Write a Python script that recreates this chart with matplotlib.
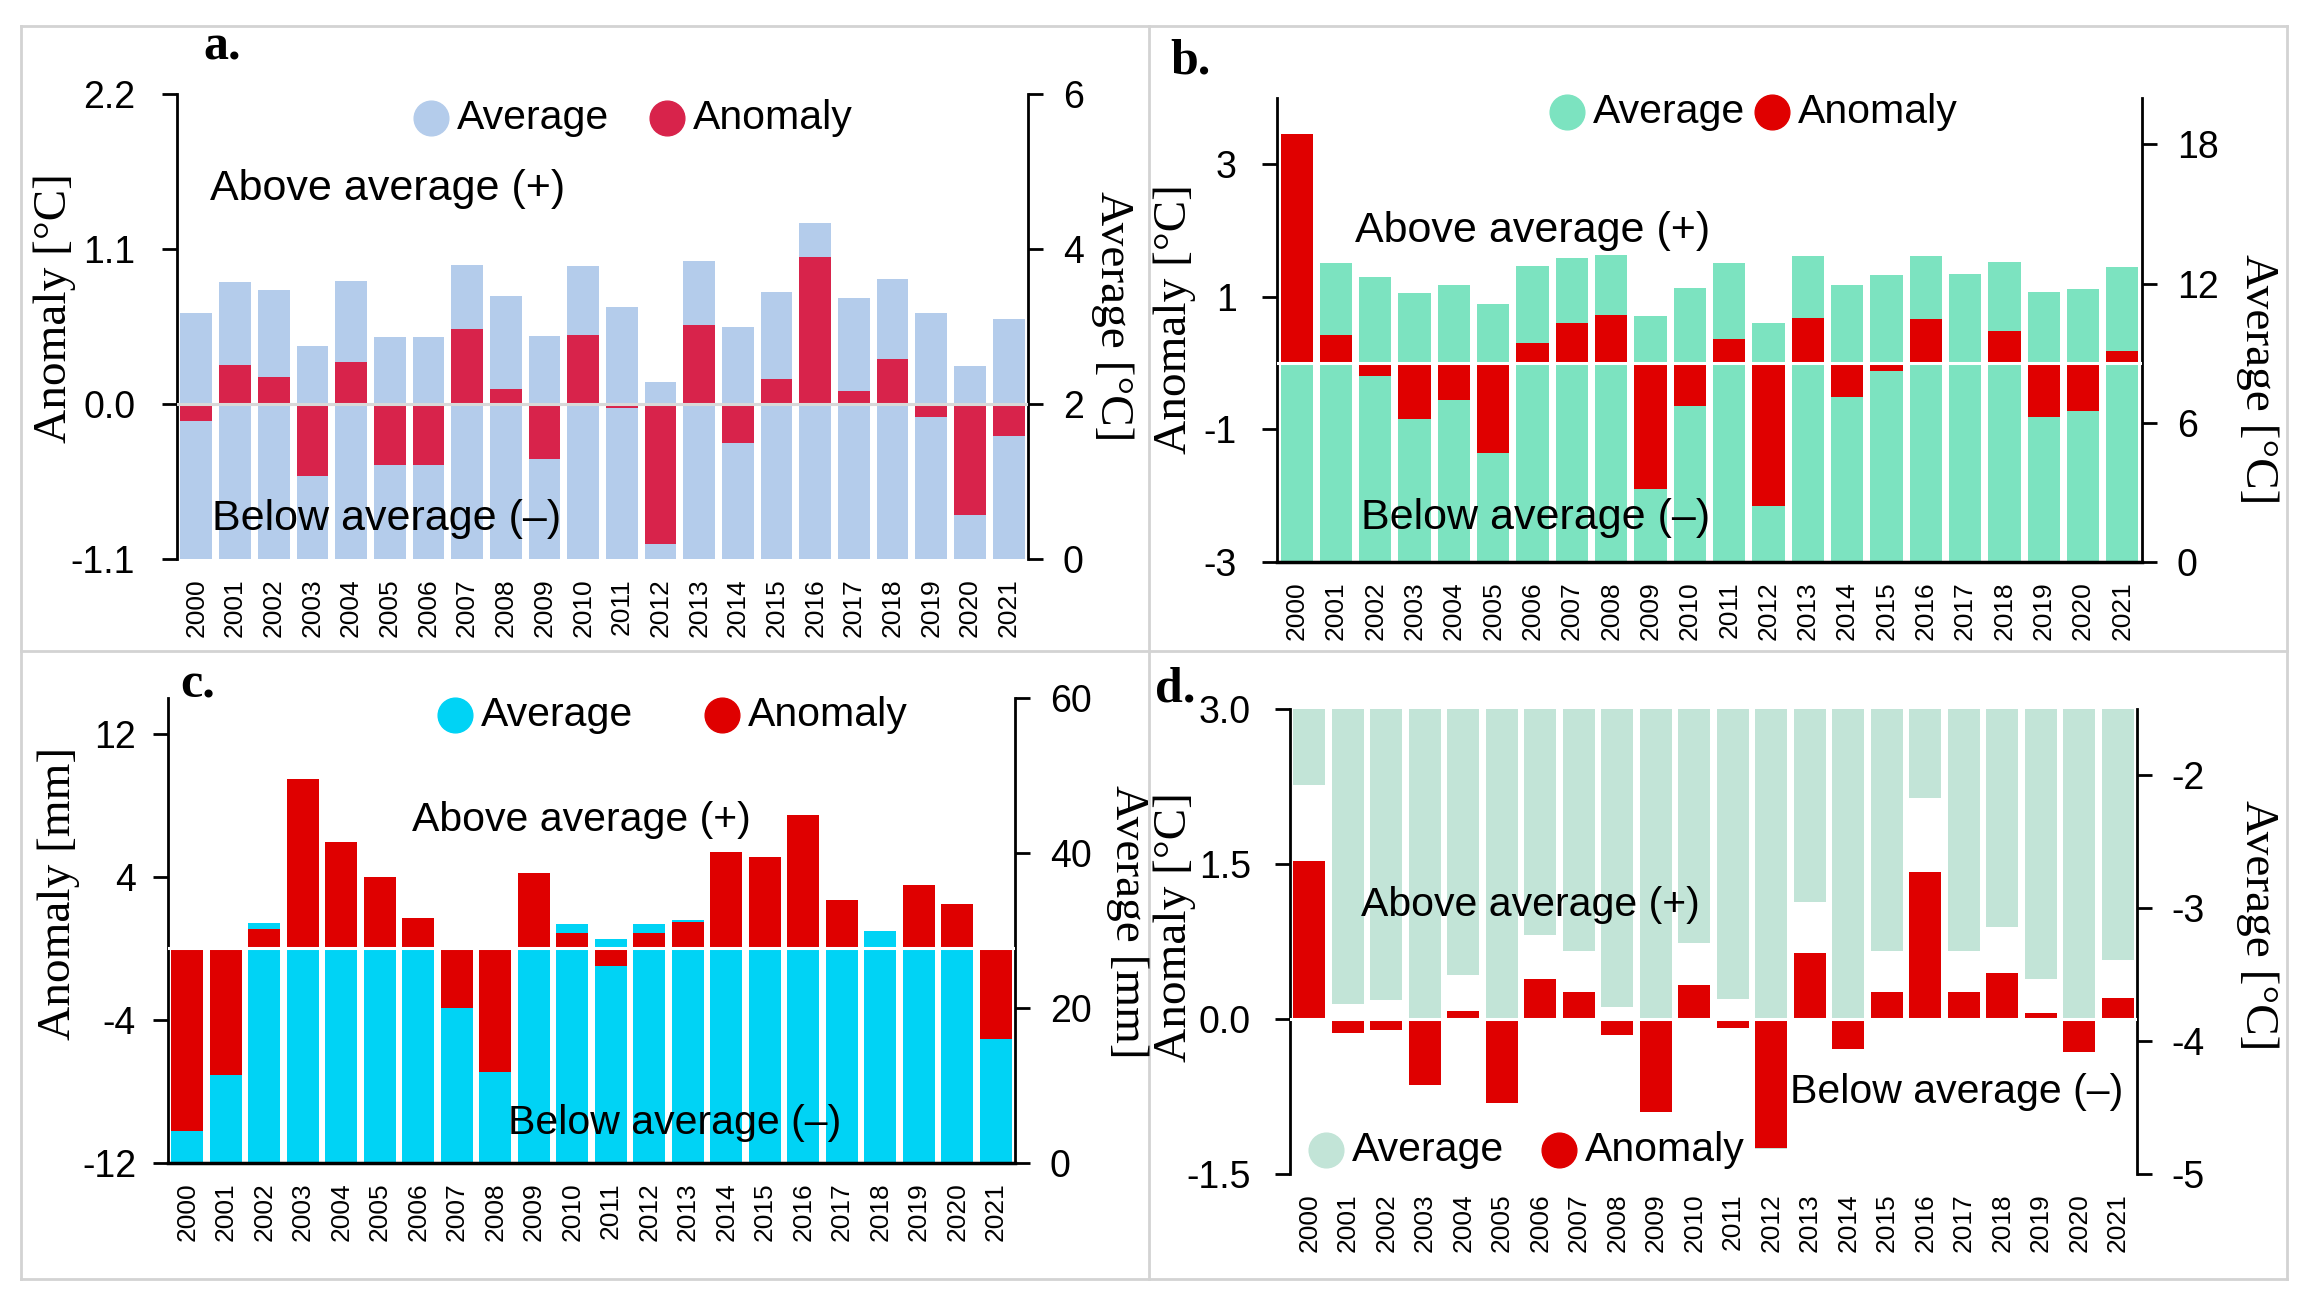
import matplotlib
matplotlib.use("Agg")
import matplotlib.pyplot as plt
from matplotlib import font_manager
from matplotlib.lines import Line2D

# 年份（横轴类别）
years = ["2000", "2001", "2002", "2003", "2004", "2005", "2006", "2007", "2008", "2009", "2010",
         "2011", "2012", "2013", "2014", "2015", "2016", "2017", "2018", "2019", "2020", "2021"]

# a. 平均值 / 距平 [°C]
a_avg = [3.17, 3.57, 3.47, 2.75, 3.59, 2.86, 2.86, 3.80, 3.39, 2.88, 3.78,
         3.25, 2.29, 3.84, 3.00, 3.45, 4.33, 3.37, 3.61, 3.18, 2.49, 3.10]
a_anom = [-0.12, 0.28, 0.19, -0.51, 0.30, -0.43, -0.43, 0.53, 0.11, -0.39, 0.49,
          -0.03, -0.99, 0.56, -0.28, 0.18, 1.04, 0.09, 0.32, -0.09, -0.79, -0.23]

# b. 平均值 / 距平 [°C]
b_avg = [15.9, 12.9, 12.3, 11.6, 11.95, 11.1, 12.75, 13.1, 13.25, 10.6, 11.8,
         12.9, 10.3, 13.2, 11.95, 12.35, 13.2, 12.4, 12.95, 11.65, 11.75, 12.7]
b_anom = [3.46, 0.42, -0.19, -0.84, -0.55, -1.35, 0.30, 0.61, 0.73, -1.90, -0.64,
          0.37, -2.16, 0.68, -0.51, -0.12, 0.66, -0.03, 0.49, -0.81, -0.72, 0.18]

# c. 平均值 / 距平 [mm]
c_avg = [19.7, 22.8, 31.0, 39.4, 35.9, 33.9, 31.6, 26.6, 23.0, 34.1, 30.8,
         28.9, 30.8, 31.4, 35.3, 35.0, 37.4, 32.6, 29.9, 33.4, 32.4, 24.9]
c_anom = [-10.2, -7.07, 1.06, 9.47, 5.97, 3.99, 1.68, -3.34, -6.89, 4.22, 0.88,
          -0.97, 0.88, 1.47, 5.37, 5.09, 7.47, 2.72, 0.0, 3.53, 2.47, -5.05]

# d. 平均值 / 距平 [°C]
d_avg = [-2.07, -3.72, -3.69, -4.23, -3.50, -4.40, -3.20, -3.32, -3.74, -4.49, -3.26,
         -3.68, -4.81, -2.95, -3.88, -3.32, -2.17, -3.32, -3.14, -3.53, -3.91, -3.39]
d_anom = [1.53, -0.14, -0.11, -0.64, 0.08, -0.81, 0.39, 0.26, -0.15, -0.90, 0.33,
          -0.09, -1.25, 0.64, -0.29, 0.26, 1.42, 0.26, 0.45, 0.06, -0.32, 0.20]

# 坐标轴刻度
a_ticks, a_ticklabels = [-1.1, 0.0, 1.1, 2.2], ["-1.1", "0.0", "1.1", "2.2"]
a_ticks2 = [0, 2, 4, 6]
b_ticks, b_ticklabels = [-3, -1, 1, 3], ["-3", "-1", "1", "3"]
b_ticks2 = [0, 6, 12, 18]
c_ticks, c_ticklabels = [-12, -4, 4, 12], ["-12", "-4", "4", "12"]
c_ticks2 = [0, 20, 40, 60]
d_ticks, d_ticklabels = [-1.5, 0.0, 1.5, 3.0], ["-1.5", "0.0", "1.5", "3.0"]
d_ticks2 = [-5, -4, -3, -2]

W, H = 2310, 1298

def fx(x):
    return x / W

def fy(y):
    return 1 - y / H

# 字体：有窄体就用窄体
names = {f.name for f in font_manager.fontManager.ttflist}
if "Liberation Sans Narrow" in names:
    tick_font, ytick_size, xtick_size = "Liberation Sans Narrow", 32, 22
else:
    tick_font, ytick_size, xtick_size = "Liberation Sans", 27, 19
sans = "Liberation Sans"
serif = "Liberation Serif"

fig = plt.figure(figsize=(W / 100, H / 100), dpi=100)

panels = [
    dict(tag="a.", tagpos=(203, 48), box=(177, 94, 1028, 559), avg=a_avg, anom=a_anom,
         c_avg="#B4CCEB", c_anom="#D8234B", zero="#D9D9D9",
         ylim=(-1.1, 2.2), ticks=a_ticks, labels=a_ticklabels, ylim2=(0, 6), ticks2=a_ticks2,
         ylab="Anomaly [°C]", ylab2="Average [°C]", lab_pos=(55, 308), lab2_pos=(1112, 316),
         bottom=False, pad=19, leg=(431, 118, 667), above=(210, 189), below=(212, 519), fs=31),
    dict(tag="b.", tagpos=(1170, 62), box=(1277, 98, 2142, 562), avg=b_avg, anom=b_anom,
         c_avg="#7CE3C0", c_anom="#E00000", zero="white",
         ylim=(-3, 4), ticks=b_ticks, labels=b_ticklabels, ylim2=(0, 20), ticks2=b_ticks2,
         ylab="Anomaly [°C]", ylab2="Average [°C]", lab_pos=(1175, 319), lab2_pos=(2257, 379),
         bottom=True, pad=18, leg=(1567, 112, 1772), above=(1355, 231), below=(1361, 518), fs=31),
    dict(tag="c.", tagpos=(180, 686), box=(168, 698, 1015, 1163), avg=c_avg, anom=c_anom,
         c_avg="#00D3F5", c_anom="#DF0000", zero="white",
         ylim=(-12, 14), ticks=c_ticks, labels=c_ticklabels, ylim2=(0, 60), ticks2=c_ticks2,
         ylab="Anomaly [mm]", ylab2="Average [mm]", lab_pos=(59, 893), lab2_pos=(1127, 922),
         bottom=True, pad=12, leg=(455, 715, 722), above=(412, 820), below=(508, 1123), fs=29.5),
    dict(tag="d.", tagpos=(1155, 690), box=(1290, 709, 2137, 1174), avg=d_avg, anom=d_anom,
         c_avg="#C2E4D7", c_anom="#DF0000", zero="white",
         ylim=(-1.5, 3.0), ticks=d_ticks, labels=d_ticklabels, ylim2=(-5, -1.5), ticks2=d_ticks2,
         ylab="Anomaly [°C]", ylab2="Average [°C]", lab_pos=(1175, 927), lab2_pos=(2257, 925),
         bottom=False, pad=17, leg=(1326, 1150, 1559), above=(1361, 905), below=(1790, 1092), fs=29.5),
]

x = list(range(len(years)))

for p in panels:
    l, t, r, b = p["box"]
    ax = fig.add_axes([fx(l), fy(b), (r - l) / W, (b - t) / H])
    ax2 = ax.twinx()
    ax.set_zorder(ax2.get_zorder() + 1)
    ax.patch.set_visible(False)

    # 平均值柱（右轴），距平柱（左轴）叠在上面
    ax2.bar(x, p["avg"], width=0.82, color=p["c_avg"], zorder=1)
    ax.bar(x, p["anom"], width=0.82, color=p["c_anom"], zorder=2)
    ax.axhline(0, color=p["zero"], lw=2.2, zorder=3)

    ax.set_xlim(-0.5, len(years) - 0.5)
    ax.set_ylim(*p["ylim"])
    ax2.set_ylim(*p["ylim2"])
    ax.set_yticks(p["ticks"])
    ax.set_yticklabels(p["labels"], fontfamily=tick_font, fontsize=ytick_size)
    ax2.set_yticks(p["ticks2"])
    ax2.set_yticklabels([str(v) for v in p["ticks2"]], fontfamily=tick_font, fontsize=ytick_size)
    ax.set_xticks(x)
    ax.set_xticklabels(years, rotation=90, fontfamily=tick_font, fontsize=xtick_size)
    ax.tick_params(axis="x", length=0, pad=14)
    ax2.tick_params(axis="x", length=0)
    ax.tick_params(axis="y", direction="out", length=11, width=2, pad=p["pad"])
    ax2.tick_params(axis="y", direction="out", length=11, width=2, pad=14)

    for s in ["top", "right"]:
        ax.spines[s].set_visible(False)
    ax.spines["bottom"].set_visible(p["bottom"])
    ax.spines["left"].set_linewidth(2)
    ax.spines["bottom"].set_linewidth(2.5)
    for s in ["top", "left", "bottom"]:
        ax2.spines[s].set_visible(False)
    ax2.spines["right"].set_linewidth(2)

    # 轴标题
    fig.text(fx(p["lab_pos"][0]), fy(p["lab_pos"][1]), p["ylab"], rotation=90,
             ha="center", va="center", fontfamily=serif, fontsize=34)
    fig.text(fx(p["lab2_pos"][0]), fy(p["lab2_pos"][1]), p["ylab2"], rotation=-90,
             ha="center", va="center", fontfamily=serif, fontsize=34)
    fig.text(fx(p["tagpos"][0]), fy(p["tagpos"][1]), p["tag"], ha="left", va="center",
             fontfamily=serif, fontweight="bold", fontsize=36)

    # 说明文字
    fig.text(fx(p["above"][0]), fy(p["above"][1]), "Above average (+)", ha="left", va="center",
             fontfamily=sans, fontsize=p["fs"])
    fig.text(fx(p["below"][0]), fy(p["below"][1]), "Below average (\u2013)", ha="left", va="center",
             fontfamily=sans, fontsize=p["fs"])

    # 图例（圆点）
    lx1, ly, lx2 = p["leg"]
    for cx, col, name in [(lx1, p["c_avg"], "Average"), (lx2, p["c_anom"], "Anomaly")]:
        fig.add_artist(Line2D([fx(cx)], [fy(ly)], marker="o", ms=25, ls="", color=col,
                              transform=fig.transFigure))
        fig.text(fx(cx + 26), fy(ly), name, ha="left", va="center", fontfamily=sans, fontsize=29.5)

# 外框和分隔线
grey = "#D3D3D3"
frame = [((21, 26), (2287, 26)), ((21, 1279), (2287, 1279)), ((21, 26), (21, 1279)),
         ((2287, 26), (2287, 1279)), ((1149, 26), (1149, 1279)), ((21, 651), (2287, 651))]
for (x0, y0), (x1, y1) in frame:
    fig.add_artist(Line2D([fx(x0), fx(x1)], [fy(y0), fy(y1)], color=grey, lw=2,
                          transform=fig.transFigure))

fig.savefig("out.png", dpi=100)
